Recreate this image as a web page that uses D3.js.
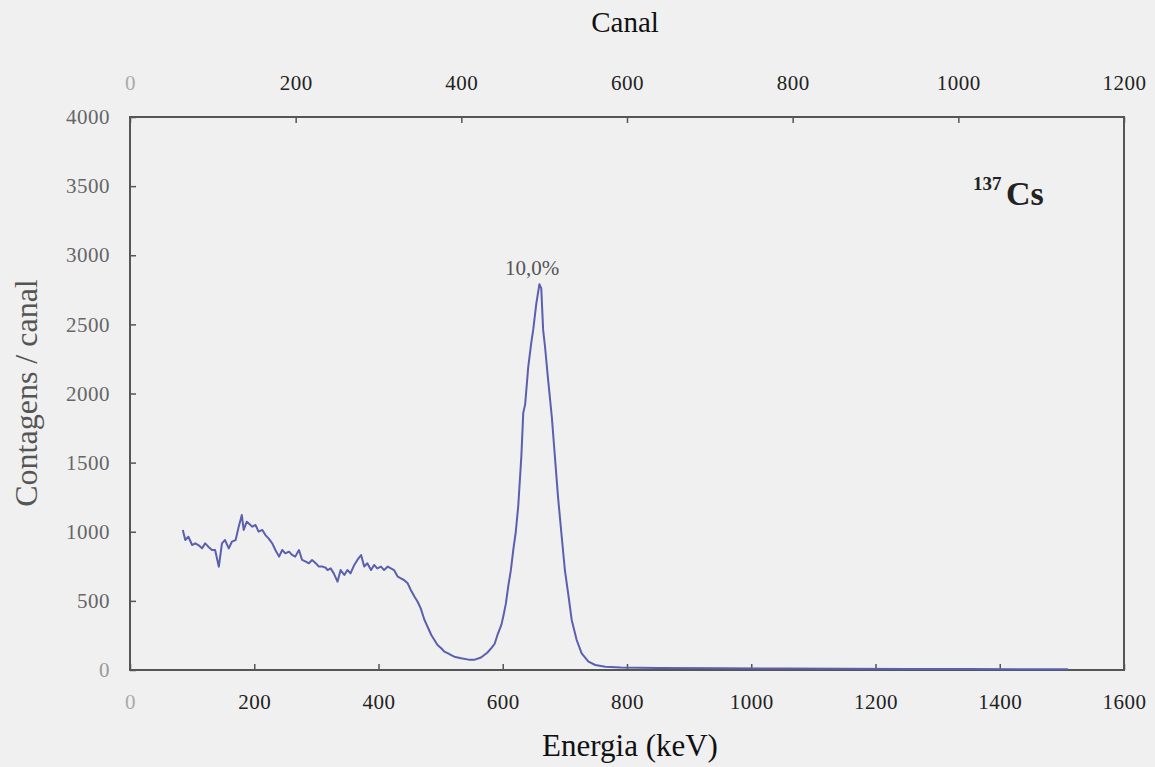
<!DOCTYPE html>
<html>
<head>
<meta charset="utf-8">
<script src="https://cdn.jsdelivr.net/npm/d3@7"></script>
<style>
  body { margin: 0; background: #f0f0f0; }
  svg { display: block; font-family: "Liberation Serif", "DejaVu Serif", serif; }
</style>
</head>
<body>
<div id="chart"></div>
<script>
// spectrum: energy (keV) and counts per channel
const energy = [85, 89, 94, 100, 105, 110, 116, 121, 126, 132, 137, 143, 148, 153, 159, 164, 170, 175, 180, 183,
  188, 197, 202, 207, 213, 218, 223, 229, 234, 240, 245, 250, 256, 261, 266, 272, 277, 283, 288, 293,
  299, 304, 310, 315, 318, 323, 328, 334, 339, 345, 350, 355, 361, 366, 372, 377, 382, 388, 393, 398,
  404, 409, 415, 420, 425, 431, 436, 441, 447, 452, 458, 463, 468, 474, 479, 485, 490, 495, 501, 506,
  512, 517, 522, 533, 545, 555, 565, 575, 582, 587, 592, 598, 601, 605, 609, 613, 617, 621, 625, 630,
  633, 636, 641, 646, 649, 654, 659, 662, 665, 668, 673, 679, 684, 689, 695, 700, 706, 711, 719, 727,
  738, 749, 765, 790, 850, 950, 1050, 1150, 1250, 1350, 1450, 1510];
const counts = [1013, 940, 964, 904, 916, 904, 880, 916, 892, 868, 868, 747, 916, 940, 880, 928, 940, 1037, 1121, 1013,
  1073, 1037, 1049, 1001, 1013, 976, 952, 916, 868, 820, 868, 844, 856, 832, 820, 868, 796, 784, 772, 796,
  772, 748, 748, 740, 723, 735, 699, 639, 723, 687, 723, 699, 760, 796, 832, 748, 772, 723, 760, 735,
  748, 723, 748, 735, 723, 675, 663, 651, 627, 579, 530, 494, 446, 362, 313, 253, 217, 181, 157, 133,
  120, 108, 96, 85, 75, 75, 90, 125, 160, 190, 260, 330, 390, 480, 610, 720, 870, 1000, 1190, 1550,
  1860, 1920, 2190, 2370, 2460, 2650, 2790, 2760, 2460, 2340, 2100, 1830, 1540, 1250, 960, 723, 530, 362, 217, 120,
  60, 36, 24, 18, 14, 12, 10, 9, 8, 7, 6, 5];

const energyTicks = [0, 200, 400, 600, 800, 1000, 1200, 1400, 1600];
const channelTicks = [0, 200, 400, 600, 800, 1000, 1200];
const countTicks = [0, 500, 1000, 1500, 2000, 2500, 3000, 3500, 4000];

const width = 1155, height = 767;
const plot = { left: 130, right: 1124, top: 117, bottom: 670 };

const svg = d3.select("#chart").append("svg")
  .attr("width", width)
  .attr("height", height);

svg.append("rect").attr("width", width).attr("height", height).attr("fill", "#f0f0f0");

const xE = d3.scaleLinear().domain([0, 1600]).range([plot.left, plot.right]);
const xC = d3.scaleLinear().domain([0, 1200]).range([plot.left, plot.right]);
const y = d3.scaleLinear().domain([0, 4000]).range([plot.bottom, plot.top]);

const fmt = d3.format("d");

// axes with inward ticks
const gBottom = svg.append("g")
  .attr("transform", `translate(0,${plot.bottom})`)
  .call(d3.axisBottom(xE).tickValues(energyTicks).tickFormat(fmt).tickSize(-6).tickPadding(24));
const gTop = svg.append("g")
  .attr("transform", `translate(0,${plot.top})`)
  .call(d3.axisTop(xC).tickValues(channelTicks).tickFormat(fmt).tickSize(-6).tickPadding(27));
const gLeft = svg.append("g")
  .attr("transform", `translate(${plot.left},0)`)
  .call(d3.axisLeft(y).tickValues(countTicks).tickFormat(fmt).tickSize(-6).tickPadding(20));

[gBottom, gTop, gLeft].forEach(g => {
  g.select(".domain").remove();
  g.selectAll(".tick line").attr("stroke", "#555").attr("stroke-width", 1.5);
  g.selectAll(".tick text")
    .attr("font-family", "Liberation Serif, serif")
    .attr("font-size", 21)
    .attr("letter-spacing", 0.5);
});
gBottom.selectAll(".tick text").attr("fill", d => d === 0 ? "#aaa" : "#222");
gTop.selectAll(".tick text").attr("fill", d => d === 0 ? "#aaa" : "#222");
gLeft.selectAll(".tick text").attr("fill", d => d === 0 ? "#999" : "#666");

// frame
svg.append("rect")
  .attr("x", plot.left).attr("y", plot.top)
  .attr("width", plot.right - plot.left).attr("height", plot.bottom - plot.top)
  .attr("fill", "none")
  .attr("stroke", "#555")
  .attr("stroke-width", 2);

// spectrum
const line = d3.line()
  .x((d, i) => xE(energy[i]))
  .y(d => y(d));

svg.append("path")
  .datum(counts)
  .attr("fill", "none")
  .attr("stroke", "#5a5fae")
  .attr("stroke-width", 2)
  .attr("stroke-linejoin", "round")
  .attr("d", line);

// titles
svg.append("text")
  .attr("x", 625).attr("y", 32)
  .attr("text-anchor", "middle")
  .attr("font-size", 29)
  .attr("fill", "#111")
  .text("Canal");

svg.append("text")
  .attr("x", 630).attr("y", 756)
  .attr("text-anchor", "middle")
  .attr("font-size", 31)
  .attr("fill", "#111")
  .text("Energia (keV)");

svg.append("text")
  .attr("transform", "translate(37,393) rotate(-90)")
  .attr("text-anchor", "middle")
  .attr("font-size", 32)
  .attr("fill", "#555")
  .text("Contagens / canal");

// annotations
svg.append("text")
  .attr("x", 532).attr("y", 275)
  .attr("text-anchor", "middle")
  .attr("font-size", 21)
  .attr("fill", "#555")
  .text("10,0%");

svg.append("text")
  .attr("x", 973).attr("y", 190)
  .attr("font-size", 19)
  .attr("font-weight", "bold")
  .attr("fill", "#222")
  .text("137");

svg.append("text")
  .attr("x", 1006).attr("y", 205)
  .attr("font-size", 34)
  .attr("font-weight", "bold")
  .attr("fill", "#222")
  .text("Cs");
</script>
</body>
</html>
